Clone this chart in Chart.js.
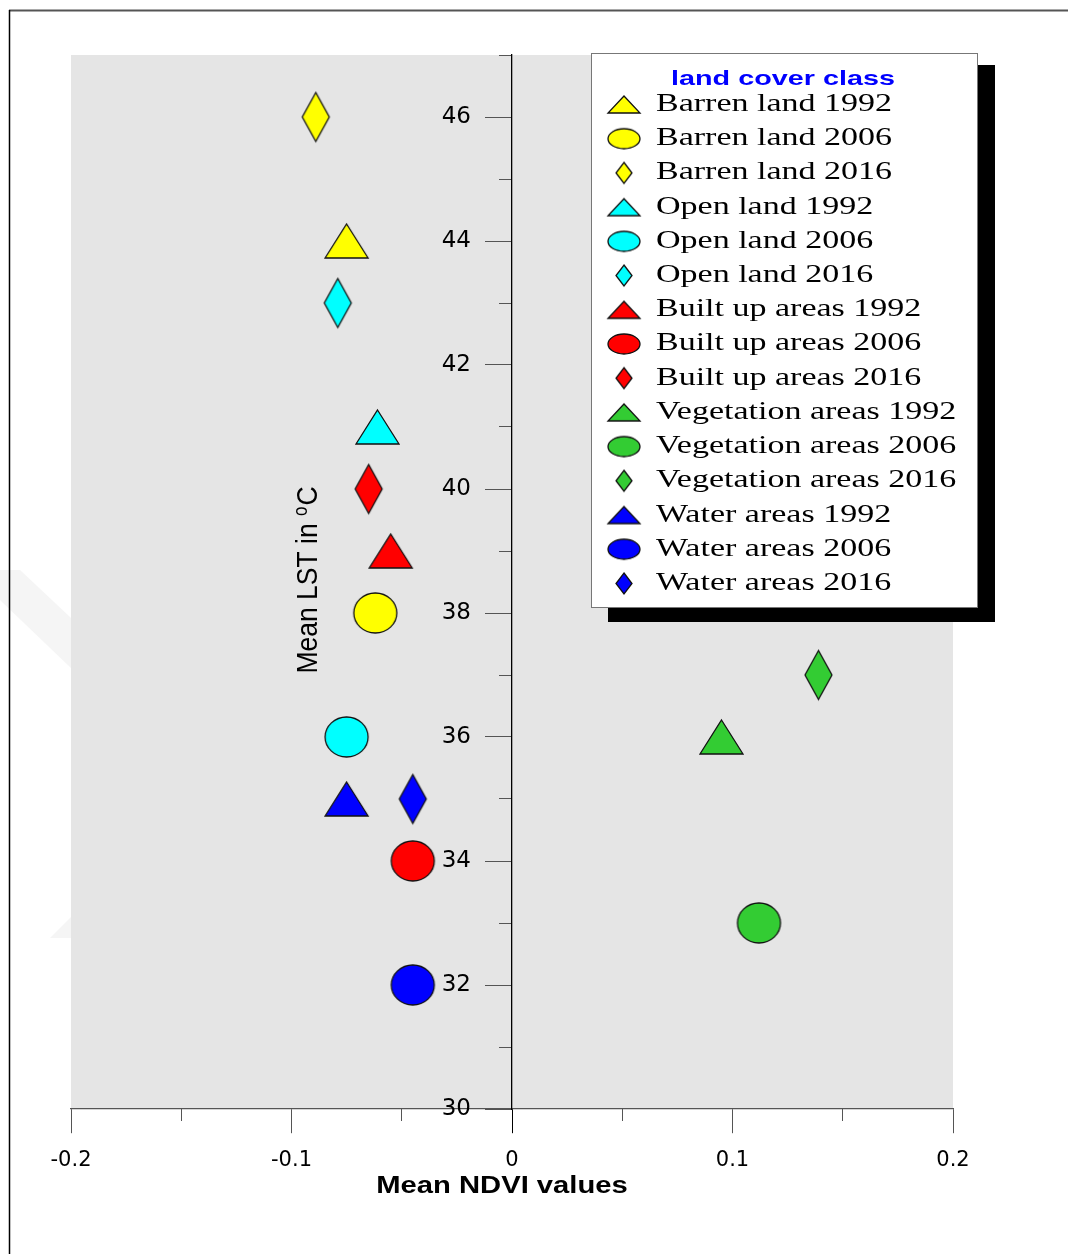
<!DOCTYPE html>
<html>
<head>
<meta charset="utf-8">
<script src="https://cdn.jsdelivr.net/npm/chart.js@4.4.1/dist/chart.umd.min.js"></script>
<style>
    body { margin: 0; background: #fff; }
    #contenedor { width: 1068px; height: 1254px; position: relative; }
</style>
</head>
<body>
<div id="contenedor"><canvas id="grafica"></canvas></div>
<script>
// Datos
const clases = ['Barren land', 'Open land', 'Built up areas', 'Vegetation areas', 'Water areas'];
const anios = ['1992', '2006', '2016'];

const ndvi1992 = [-0.075, -0.061, -0.055, 0.095, -0.075];
const lst1992 = [44, 41, 39, 36, 35];
const ndvi2006 = [-0.062, -0.075, -0.045, 0.112, -0.045];
const lst2006 = [38, 36, 34, 33, 32];
const ndvi2016 = [-0.089, -0.079, -0.065, 0.139, -0.045];
const lst2016 = [46, 43, 40, 37, 35];

const ticksY = [30, 32, 34, 36, 38, 40, 42, 44, 46];
const ticksYMenores = [31, 33, 35, 37, 39, 41, 43, 45, 47];
const ticksX = [-0.2, -0.1, 0, 0.1, 0.2];
const ticksXMenores = [-0.15, -0.05, 0.05, 0.15];

// Estilos
const colores = ['#ffff00', '#00ffff', '#ff0000', '#33cc33', '#0000ff'];
const formas = ['triangulo', 'elipse', 'rombo'];

// Dibuja un marcador en un canvas aparte para usarlo como pointStyle
function crearMarcador(forma, color, ancho, alto) {
    const c = document.createElement('canvas');
    c.width = ancho + 4;
    c.height = alto + 4;
    const g = c.getContext('2d');
    const cx = c.width / 2, cy = c.height / 2;
    g.beginPath();
    if (forma === 'triangulo') {
        g.moveTo(cx, cy - alto / 2);
        g.lineTo(cx + ancho / 2, cy + alto / 2);
        g.lineTo(cx - ancho / 2, cy + alto / 2);
        g.closePath();
    } else if (forma === 'elipse') {
        g.ellipse(cx, cy, ancho / 2, alto / 2, 0, 0, Math.PI * 2);
    } else {
        g.moveTo(cx, cy - alto / 2);
        g.lineTo(cx + ancho / 2, cy);
        g.lineTo(cx, cy + alto / 2);
        g.lineTo(cx - ancho / 2, cy);
        g.closePath();
    }
    g.fillStyle = color;
    g.fill();
    g.lineWidth = 1.3;
    g.strokeStyle = '#111';
    g.stroke();
    return c;
}

const tamGrande = { triangulo: [43, 34], elipse: [43, 40], rombo: [27, 49] };
const tamLeyenda = { triangulo: [32, 17], elipse: [32, 20], rombo: [16, 21] };

const ndviPorAnio = [ndvi1992, ndvi2006, ndvi2016];
const lstPorAnio = [lst1992, lst2006, lst2016];

const conjuntos = [];
clases.forEach((clase, i) => {
    anios.forEach((anio, j) => {
        const forma = formas[j];
        conjuntos.push({
            label: `${clase} ${anio}`,
            data: [{ x: ndviPorAnio[j][i], y: lstPorAnio[j][i] }],
            pointStyle: crearMarcador(forma, colores[i], ...tamGrande[forma]),
            iconoLeyenda: crearMarcador(forma, colores[i], ...tamLeyenda[forma]),
            pointRadius: 20,
            clip: false
        });
    });
});

// Fondo gris del área, marco de la página y marca de agua
const pluginFondo = {
    id: 'fondo',
    beforeDraw(chart) {
        const { ctx, chartArea: a } = chart;
        ctx.save();
        ctx.fillStyle = '#fff';
        ctx.fillRect(0, 0, chart.width, chart.height);

        ctx.fillStyle = '#f5f5f5';
        ctx.beginPath();
        ctx.moveTo(0, 570); ctx.lineTo(20, 570); ctx.lineTo(71, 618); ctx.lineTo(71, 668); ctx.lineTo(0, 600);
        ctx.closePath(); ctx.fill();
        ctx.beginPath();
        ctx.moveTo(50, 938); ctx.lineTo(71, 917); ctx.lineTo(71, 938);
        ctx.closePath(); ctx.fill();

        ctx.strokeStyle = '#555';
        ctx.lineWidth = 2;
        ctx.beginPath(); ctx.moveTo(9, 10.5); ctx.lineTo(chart.width, 10.5); ctx.stroke();
        ctx.strokeStyle = '#000';
        ctx.lineWidth = 1.5;
        ctx.beginPath(); ctx.moveTo(9.5, 10); ctx.lineTo(9.5, chart.height); ctx.stroke();

        ctx.fillStyle = '#e5e5e5';
        ctx.fillRect(a.left, a.top, a.right - a.left, a.bottom - a.top);
        ctx.restore();
    }
};

// Títulos de ejes y leyenda con sombra
const pluginTextos = {
    id: 'textos',
    afterDraw(chart) {
        const { ctx } = chart;
        ctx.save();

        // Título eje X
        ctx.fillStyle = '#000';
        ctx.font = 'bold 23px "Liberation Sans", Arial, sans-serif';
        ctx.textAlign = 'center';
        ctx.textBaseline = 'alphabetic';
        ctx.save();
        ctx.translate(502, 1193);
        ctx.scale(1.27, 1);
        ctx.fillText('Mean NDVI values', 0, 0);
        ctx.restore();

        // Título eje Y con superíndice
        ctx.save();
        ctx.translate(317, 580);
        ctx.scale(1.14, 1);
        ctx.rotate(-Math.PI / 2);
        ctx.textAlign = 'left';
        const fuenteNormal = '26.5px "Liberation Sans", Arial, sans-serif';
        const fuenteSup = '17px "Liberation Sans", Arial, sans-serif';
        ctx.font = fuenteNormal;
        const w1 = ctx.measureText('Mean LST in ').width;
        const w3 = ctx.measureText('C').width;
        ctx.font = fuenteSup;
        const w2 = ctx.measureText('o').width + 1;
        const x0 = -(w1 + w2 + w3) / 2;
        ctx.font = fuenteNormal;
        ctx.fillText('Mean LST in ', x0, 0);
        ctx.font = fuenteSup;
        ctx.fillText('o', x0 + w1, -9);
        ctx.font = fuenteNormal;
        ctx.fillText('C', x0 + w1 + w2, 0);
        ctx.restore();

        // Leyenda
        ctx.fillStyle = '#000';
        ctx.fillRect(608, 65, 387, 557);
        ctx.fillStyle = '#fff';
        ctx.fillRect(591, 53, 387, 555);
        ctx.strokeStyle = '#777';
        ctx.lineWidth = 1;
        ctx.strokeRect(591.5, 53.5, 386, 554);

        ctx.fillStyle = '#0000ff';
        ctx.font = 'bold 21px "Liberation Sans", Arial, sans-serif';
        ctx.textAlign = 'center';
        ctx.save();
        ctx.translate(783, 85);
        ctx.scale(1.37, 1);
        ctx.fillText('land cover class', 0, 0);
        ctx.restore();

        ctx.textAlign = 'left';
        ctx.font = '25px "Liberation Serif", "Times New Roman", serif';
        chart.data.datasets.forEach((ds, i) => {
            const base = 111 + i * 34.21;
            const icono = ds.iconoLeyenda;
            ctx.drawImage(icono, 624 - icono.width / 2, base - 6.5 - icono.height / 2);
            ctx.save();
            ctx.translate(656, base);
            ctx.scale(1.36, 1);
            ctx.fillStyle = '#000';
            ctx.fillText(ds.label, 0, 0);
            ctx.restore();
        });
        ctx.restore();
    }
};

const colorTick = '#555';

new Chart(document.getElementById('grafica'), {
    type: 'scatter',
    data: { datasets: conjuntos },
    options: {
        responsive: true,
        maintainAspectRatio: false,
        animation: false,
        layout: { padding: { left: 71, top: 55, right: 115, bottom: 145 } },
        plugins: {
            legend: { display: false },
            tooltip: { enabled: false }
        },
        scales: {
            x: {
                type: 'linear',
                axis: 'x',
                position: { y: 30 },
                min: -0.2,
                max: 0.2,
                afterBuildTicks: s => { s.ticks = ticksX.map(v => ({ value: v })); },
                ticks: {
                    color: '#000',
                    padding: 15,
                    font: { family: 'DejaVu Sans', size: 21 },
                    callback: v => (v === 0 ? '0' : v.toFixed(1))
                },
                grid: {
                    drawOnChartArea: false,
                    tickLength: 24,
                    tickColor: c => (c.tick && c.tick.value === 0 ? '#000' : colorTick)
                },
                border: { color: colorTick, width: 1.2 }
            },
            xMenor: {
                type: 'linear',
                axis: 'x',
                position: { y: 30 },
                min: -0.2,
                max: 0.2,
                afterBuildTicks: s => { s.ticks = ticksXMenores.map(v => ({ value: v })); },
                ticks: { display: false },
                grid: { drawOnChartArea: false, tickLength: 12, tickColor: colorTick },
                border: { display: false }
            },
            y: {
                type: 'linear',
                axis: 'y',
                position: 'center',
                min: 30,
                max: 47,
                afterBuildTicks: s => { s.ticks = ticksY.map(v => ({ value: v })); },
                ticks: {
                    color: '#000',
                    padding: 15,
                    font: { family: 'DejaVu Sans', size: 23 }
                },
                grid: { drawOnChartArea: false, tickLength: 26, tickColor: colorTick },
                border: { color: '#000', width: 1.3 }
            },
            yMenor: {
                type: 'linear',
                axis: 'y',
                position: 'center',
                min: 30,
                max: 47,
                afterBuildTicks: s => { s.ticks = ticksYMenores.map(v => ({ value: v })); },
                ticks: { display: false },
                grid: { drawOnChartArea: false, tickLength: 13, tickColor: colorTick },
                border: { display: false }
            }
        }
    },
    plugins: [pluginFondo, pluginTextos]
});
</script>
</body>
</html>
